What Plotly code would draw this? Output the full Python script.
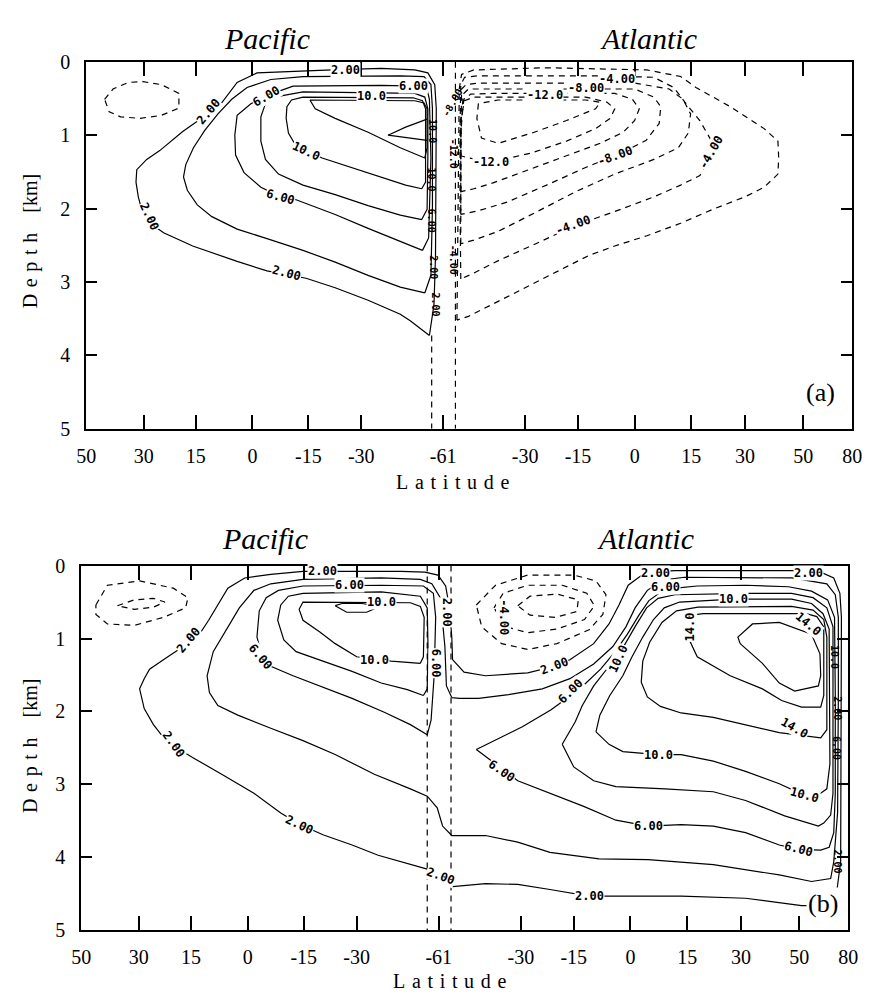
import plotly.graph_objects as go

W, H = 872, 1003

# ---------------- axes data ----------------
# section coordinate: 0 = 50N (Pacific) ... 46.6 = 61S ... 100 = 80N (Atlantic)
tick_pos = [0, 7.5, 14.3, 21.7, 29.0, 35.9, 46.6, 57.3, 64.2, 71.6, 79.0, 86.0, 93.6, 100]
tick_text = ["50", "30", "15", "0", "-15", "-30", "-61", "-30", "-15", "0", "15", "30", "50", "80"]
depth_ticks = [0, 1, 2, 3, 4, 5]
drake_x = [45.1, 48.2]

# ---------------- panel (a) streamlines (x = section coord, d = depth km) ----------------
a_p2_x = [44.8,45.4,45.6,45.7,45.7,45.5,44.6,42.9,38.5,32.1,27.0,22.3,19.7,18.1,16.8,14.5,12.6,9.6,7.9,6.6,6.5,6.8,7.3,8.5,10.1,13.9,19.7,23.6,28.7,32.5,36.8,41.0,42.3,44.8]
a_p2_d = [3.73,3.31,2.64,1.31,0.64,0.31,0.15,0.11,0.09,0.11,0.13,0.15,0.28,0.51,0.68,0.81,0.95,1.21,1.33,1.47,1.64,1.84,2.04,2.21,2.33,2.51,2.72,2.85,2.95,3.08,3.25,3.44,3.53,3.73]
a_p4_x = [44.2,45.0,45.2,45.2,45.0,44.1,41.0,32.1,28.3,24.1,21.0,19.0,17.2,15.5,14.0,13.0,12.7,13.2,14.5,16.4,19.7,23.6,28.3,32.5,36.8,41.0,44.2]
a_p4_d = [3.15,2.91,1.97,0.64,0.31,0.20,0.19,0.19,0.20,0.24,0.35,0.51,0.71,0.93,1.17,1.40,1.57,1.75,1.95,2.11,2.28,2.41,2.57,2.73,2.91,3.07,3.15]
a_p6_x = [43.9,44.7,45.0,44.8,44.5,43.3,38.5,32.1,27.0,24.1,21.5,19.7,19.4,19.5,20.6,22.8,25.4,27.4,32.5,36.8,41.0,43.9]
a_p6_d = [2.57,2.40,1.31,0.51,0.37,0.33,0.32,0.32,0.33,0.44,0.57,0.73,1.00,1.27,1.51,1.71,1.84,1.88,2.08,2.27,2.45,2.57]
a_p8_x = [43.8,44.5,44.6,44.6,44.2,42.9,28.3,25.1,23.4,22.8,22.8,23.4,25.1,28.3,32.5,36.8,41.0,43.8]
a_p8_d = [2.15,2.01,1.31,0.64,0.48,0.43,0.41,0.47,0.57,0.75,1.08,1.33,1.53,1.68,1.81,1.96,2.09,2.15]
a_p10_x = [43.8,44.3,44.3,43.9,42.7,28.3,26.8,26.2,26.1,26.4,27.3,28.7,30.8,34.6,38.5,41.7,43.8]
a_p10_d = [1.73,1.64,0.64,0.53,0.49,0.48,0.52,0.61,0.77,0.97,1.13,1.21,1.31,1.44,1.57,1.68,1.73]
a_p12_x = [29.2,29.9,32.5,36.8,41.0,44.2,44.5,44.5,44.1,42.9,29.2]
a_p12_d = [0.52,0.64,0.77,0.96,1.17,1.31,1.17,0.64,0.56,0.53,0.52]
a_p14_x = [44.5,41.7,39.4,41.7,44.5]
a_p14_d = [0.78,0.89,1.00,1.03,1.07]
a_pn2_x = [2.4,3.5,5.5,7.4,9.8,12.1,12.1,9.8,7.0,4.5,3.0,2.4]
a_pn2_d = [0.51,0.37,0.28,0.27,0.31,0.43,0.63,0.73,0.77,0.75,0.68,0.51]

a_a2_x = [48.4,48.5,48.6,48.7,49.0,50.6,60.1,73.2,77.6,79.6,83.9,88.5,90.3,90.4,90.3,88.5,86.0,81.8,77.6,73.2,69.0,65.6,60.5,56.3,52.1,49.9,48.4]
a_a2_d = [3.52,2.64,1.31,0.37,0.17,0.11,0.08,0.11,0.20,0.35,0.60,0.91,1.08,1.31,1.53,1.71,1.84,2.01,2.20,2.37,2.51,2.64,2.91,3.13,3.35,3.47,3.52]
a_a4_x = [48.9,48.8,48.8,48.9,49.4,51.2,66.5,74.1,76.7,78.3,80.1,81.8,81.7,80.1,77.6,74.1,69.0,63.6,58.9,53.8,50.6,48.9]
a_a4_d = [2.96,1.97,0.91,0.31,0.21,0.19,0.19,0.21,0.35,0.57,0.80,1.11,1.31,1.55,1.68,1.84,2.04,2.24,2.47,2.71,2.88,2.96]
a_a6_x = [48.9,48.9,49.0,49.6,51.2,71.6,76.1,77.9,78.9,78.6,77.3,74.1,69.0,63.9,58.9,53.8,50.6,48.9]
a_a6_d = [2.48,1.31,0.37,0.31,0.29,0.29,0.37,0.51,0.71,0.97,1.17,1.33,1.53,1.77,2.04,2.31,2.43,2.48]
a_a8_x = [48.9,48.9,49.2,49.9,52.5,71.6,74.1,75.0,74.8,73.1,69.9,65.2,60.1,55.0,51.2,48.9]
a_a8_d = [2.08,1.04,0.44,0.37,0.37,0.37,0.48,0.61,0.84,1.07,1.24,1.44,1.68,1.91,2.03,2.08]
a_a10_x = [48.9,48.9,49.3,50.2,53.1,69.0,71.3,72.2,71.6,70.1,67.1,62.7,57.6,53.1,50.6,48.9]
a_a10_d = [1.77,0.91,0.51,0.44,0.43,0.43,0.51,0.64,0.80,0.96,1.11,1.28,1.48,1.65,1.73,1.77]
a_a12_x = [48.9,48.9,49.4,50.6,65.2,68.0,69.0,68.4,66.5,62.7,58.2,54.4,52.1,49.9,48.9]
a_a12_d = [1.28,0.77,0.53,0.48,0.48,0.55,0.64,0.77,0.91,1.08,1.24,1.33,1.35,1.31,1.28]
a_a14_x = [51.2,51.0,51.6,53.8,58.2,62.7,66.5,67.1,65.2,53.8,51.2]
a_a14_d = [0.57,0.77,1.04,1.11,0.97,0.80,0.64,0.55,0.52,0.52,0.57]

# ---------------- panel (b) streamlines ----------------
b_2_x = [48.4,48.3,48.0,47.5,46.5,44.8,41.7,28.9,24.7,21.3,19.1,17.8,16.6,14.9,12.7,10.7,8.9,8.2,7.6,8.2,9.4,11.1,14.5,18.3,22.5,26.0,28.5,31.5,35.3,38.7,41.7,45.1,46.8,48.4,52.7,56.9,61.1,66.2,69.7,78.2,86.6,91.0,93.9,97.1,98.5,99.0,99.1,99.1,98.9,98.1,96.4,92.6,77.3,74.8,73.1,71.3,70.1,68.8,66.8,63.7,61.7,58.2,52.7,49.9,48.4]
b_2_d = [1.29,0.98,0.58,0.28,0.13,0.09,0.08,0.08,0.12,0.17,0.31,0.54,0.75,1.02,1.15,1.29,1.42,1.55,1.69,1.96,2.18,2.41,2.63,2.86,3.12,3.39,3.55,3.69,3.83,3.97,4.06,4.16,4.29,4.40,4.36,4.37,4.44,4.53,4.53,4.53,4.56,4.62,4.66,4.66,4.46,4.06,1.78,0.71,0.38,0.17,0.09,0.07,0.07,0.09,0.13,0.27,0.54,0.80,1.07,1.29,1.38,1.47,1.51,1.46,1.29]
b_4_x = [48.3,47.6,47.4,47.1,46.8,45.7,44.2,39.1,28.9,24.7,22.5,20.6,19.0,17.2,16.4,16.7,17.8,20.4,24.7,28.9,33.1,38.2,42.9,45.1,46.4,47.1,48.3,52.7,56.9,61.1,67.5,73.9,82.4,91.0,95.2,97.7,98.1,98.6,98.7,98.7,98.3,97.2,92.6,78.6,75.8,73.8,72.2,71.0,69.3,66.8,63.7,60.1,55.7,51.8,49.3,48.3]
b_4_d = [1.81,1.65,1.11,0.71,0.44,0.25,0.19,0.17,0.19,0.25,0.34,0.58,0.87,1.18,1.51,1.74,1.92,2.05,2.23,2.40,2.59,2.86,3.06,3.16,3.32,3.57,3.70,3.70,3.79,3.93,4.02,4.03,4.10,4.24,4.33,4.29,4.06,3.39,1.78,0.71,0.40,0.25,0.17,0.16,0.20,0.34,0.58,0.84,1.11,1.35,1.55,1.69,1.77,1.82,1.82,1.81]
b_p6_x = [45.1,45.6,46.0,46.2,45.9,44.6,39.1,28.9,25.7,24.1,23.2,22.9,23.6,24.7,27.6,31.1,35.3,39.5,42.9,45.1]
b_p6_d = [2.32,2.12,1.51,0.71,0.38,0.28,0.27,0.28,0.34,0.44,0.62,0.98,1.25,1.38,1.51,1.65,1.82,2.01,2.18,2.32]
b_p8_x = [44.6,45.1,45.2,45.1,44.2,39.1,28.9,27.0,26.0,25.6,26.4,28.0,31.5,35.3,39.1,42.5,44.6]
b_p8_d = [1.78,1.69,1.11,0.58,0.42,0.36,0.38,0.42,0.54,0.75,1.02,1.18,1.31,1.45,1.61,1.70,1.78]
b_p10_x = [44.2,44.6,44.7,44.2,42.9,28.9,28.4,28.9,31.1,33.1,35.9,40.4,44.2]
b_p10_d = [1.34,1.25,0.71,0.56,0.51,0.50,0.60,0.75,0.91,1.07,1.25,1.31,1.34]
b_p12_x = [33.1,34.6,37.2,38.9,36.6,34.0,33.1]
b_p12_d = [0.55,0.64,0.64,0.56,0.52,0.52,0.55]
b_pn2_x = [1.9,3.4,7.6,12.0,13.9,13.6,10.7,6.9,3.4,1.9,1.9]
b_pn2_d = [0.54,0.27,0.21,0.31,0.44,0.58,0.71,0.82,0.80,0.67,0.54]
b_pn4_x = [4.7,6.9,9.4,10.9,9.4,6.9,4.7]
b_pn4_d = [0.55,0.47,0.45,0.50,0.57,0.60,0.55]

b_a6_x = [51.5,57.5,61.2,63.8,65.7,67.7,69.6,71.2,72.7,74.0,75.6,77.5,80.3,86.6,92.2,95.2,97.3,98.2,98.3,98.3,98.1,97.5,96.4,93.5,91.0,86.6,82.4,78.2,73.9,69.7,65.5,61.1,56.9,53.5,51.5]
b_a6_d = [2.52,2.21,1.98,1.78,1.62,1.42,1.18,0.94,0.68,0.48,0.36,0.31,0.28,0.27,0.29,0.35,0.47,0.71,1.78,3.12,3.66,3.86,3.90,3.89,3.83,3.66,3.57,3.55,3.57,3.49,3.30,3.12,2.95,2.68,2.52]
b_a8_x = [62.7,64.4,65.3,66.8,68.8,70.7,72.3,73.7,75.2,77.4,86.6,92.6,95.4,97.2,98.0,98.0,97.7,96.8,96.1,91.7,86.6,82.4,76.1,69.7,66.8,64.2,62.7]
b_a8_d = [2.45,2.14,1.92,1.65,1.38,1.11,0.82,0.58,0.45,0.40,0.38,0.38,0.44,0.58,0.84,3.12,3.42,3.53,3.57,3.43,3.22,3.10,3.06,3.03,2.95,2.76,2.45]
b_a10_x = [67.1,67.6,68.9,70.6,71.8,73.2,74.6,76.0,78.0,85.0,92.6,95.2,96.7,97.5,97.6,97.2,96.4,94.3,91.0,86.6,82.4,78.2,75.2,70.6,68.8,67.1]
b_a10_d = [2.28,2.05,1.78,1.51,1.25,0.98,0.74,0.58,0.50,0.46,0.46,0.52,0.66,0.87,2.72,3.06,3.12,3.15,2.99,2.82,2.68,2.59,2.59,2.55,2.45,2.28]
b_a12_x = [73.0,73.2,74.1,75.7,77.6,80.4,92.6,95.4,96.8,97.2,97.2,96.4,91.0,86.6,82.4,78.2,75.5,73.8,73.0]
b_a12_d = [1.60,1.31,1.05,0.78,0.62,0.57,0.56,0.61,0.74,0.98,2.25,2.36,2.29,2.18,2.08,2.02,1.93,1.80,1.60]
b_a14_x = [79.5,79.1,80.3,82.4,84.6,88.8,91.3,93.9,96.4,96.8,96.8,95.9,94.5,81.1,79.5]
b_a14_d = [0.68,0.98,1.25,1.38,1.51,1.69,1.85,1.94,1.94,1.78,0.84,0.70,0.66,0.66,0.68]
b_a16_x = [85.9,85.6,87.5,91.0,95.2,96.3,96.4,96.1,93.0,91.0,88.8,85.9]
b_a16_d = [1.07,0.98,0.80,0.78,0.94,1.21,1.51,1.65,1.72,1.61,1.34,1.07]
b_an2_x = [51.5,54.0,58.2,64.2,67.1,68.4,68.0,66.2,62.0,58.2,54.8,52.2,51.5]
b_an2_d = [0.54,0.27,0.13,0.13,0.21,0.40,0.67,0.88,1.07,1.15,1.07,0.84,0.54]
b_an4_x = [53.8,55.0,58.2,62.7,65.9,66.9,65.6,62.0,58.2,55.4,53.8]
b_an4_d = [0.58,0.38,0.27,0.27,0.38,0.55,0.74,0.87,0.92,0.84,0.58]
b_an6_x = [56.9,58.5,62.0,64.8,64.6,61.8,58.5,56.9]
b_an6_d = [0.55,0.42,0.39,0.47,0.63,0.71,0.68,0.55]

# (level, x, depth) lists per panel
panel_a = [(2, a_p2_x, a_p2_d), (4, a_p4_x, a_p4_d), (6, a_p6_x, a_p6_d), (8, a_p8_x, a_p8_d),
           (10, a_p10_x, a_p10_d), (12, a_p12_x, a_p12_d), (14, a_p14_x, a_p14_d), (-2, a_pn2_x, a_pn2_d),
           (-2, a_a2_x, a_a2_d), (-4, a_a4_x, a_a4_d), (-6, a_a6_x, a_a6_d), (-8, a_a8_x, a_a8_d),
           (-10, a_a10_x, a_a10_d), (-12, a_a12_x, a_a12_d), (-14, a_a14_x, a_a14_d)]
panel_b = [(2, b_2_x, b_2_d), (4, b_4_x, b_4_d), (6, b_p6_x, b_p6_d), (8, b_p8_x, b_p8_d),
           (10, b_p10_x, b_p10_d), (12, b_p12_x, b_p12_d), (-2, b_pn2_x, b_pn2_d), (-4, b_pn4_x, b_pn4_d),
           (6, b_a6_x, b_a6_d), (8, b_a8_x, b_a8_d), (10, b_a10_x, b_a10_d), (12, b_a12_x, b_a12_d),
           (14, b_a14_x, b_a14_d), (16, b_a16_x, b_a16_d),
           (-2, b_an2_x, b_an2_d), (-4, b_an4_x, b_an4_d), (-6, b_an6_x, b_an6_d)]

# contour labels: text, x, depth, angle (labels on open ground get a white gap)
a_lab_text = ["2.00", "2.00", "2.00", "2.00", "6.00", "6.00", "6.00", "10.0", "10.0",
              "-4.00", "-8.00", "-12.0", "-12.0", "-8.00", "-4.00", "-4.00"]
a_lab_x = [33.8, 15.9, 8.3, 26.1, 42.7, 23.6, 25.4, 37.2, 28.7, 69.3, 65.2, 59.9, 52.9, 69.0, 63.6, 81.5]
a_lab_d = [0.11, 0.68, 2.11, 2.88, 0.33, 0.47, 1.84, 0.47, 1.21, 0.23, 0.36, 0.45, 1.36, 1.28, 2.22, 1.24]
a_lab_ang = [0, -50, 65, 15, 0, -30, 15, 0, 25, 0, 0, 0, 0, -20, -20, -60]
# crowded labels along the Drake Passage column (drawn over the lines)
a_col_text = ["10.0", "10.0", "6.00", "2.00", "-8.00", "-12.0", "-4.00", "2.00"]
a_col_x = [45.2, 45.1, 45.2, 45.4, 47.8, 48.0, 47.9, 45.6]
a_col_d = [0.95, 1.60, 2.17, 2.80, 0.55, 1.25, 2.70, 3.30]
a_col_ang = [90, 90, 90, 90, -60, 90, 90, 90]

b_lab_text = ["2.00", "2.00", "2.00", "2.00", "2.00", "2.00", "2.00", "6.00", "6.00", "6.00", "10.0", "10.0",
              "2.00", "2.00", "2.00", "6.00", "6.00", "6.00", "6.00", "6.00", "10.0", "10.0", "10.0", "10.0",
              "14.0", "14.0", "14.0", "-4.00"]
b_lab_x = [31.5, 14.0, 12.0, 28.5, 46.8, 66.2, 47.6, 34.9, 23.4, 46.2, 39.1, 38.2,
           74.8, 94.8, 61.7, 76.1, 63.8, 54.8, 73.9, 93.5, 85.0, 70.0, 75.2, 94.3,
           79.3, 94.8, 93.0, 55.0]
b_lab_d = [0.08, 1.02, 2.45, 3.55, 4.26, 4.53, 0.64, 0.27, 1.25, 1.34, 0.50, 1.30,
           0.10, 0.10, 1.38, 0.30, 1.72, 2.82, 3.57, 3.89, 0.46, 1.28, 2.59, 3.15,
           0.84, 0.80, 2.23, 0.71]
b_lab_ang = [0, -50, 55, 25, 20, 0, 90, 0, 50, 90, 0, 0,
             0, 0, -20, 0, -45, 35, 0, 15, 0, -65, 0, 15,
             -90, 40, 30, 90]
b_col_text = ["10.0", "2.00", "6.00", "2.00"]
b_col_x = [98.1, 98.6, 98.4, 98.6]
b_col_d = [1.25, 1.95, 2.50, 4.05]
b_col_ang = [90, 90, 90, 90]

# ---------------- figure ----------------
fig = go.Figure()
LW = 1.2
DASH = "6px,5px"


def add_set(lines, xa, ya):
    for lev, xs, ds in lines:
        fig.add_trace(go.Scatter(
            x=xs, y=ds, mode="lines", xaxis=xa, yaxis=ya,
            line=dict(color="black", width=LW, dash="solid" if lev > 0 else DASH),
            hoverinfo="skip", showlegend=False))


add_set(panel_a, "x", "y")
add_set(panel_b, "x2", "y2")

# Drake Passage boundary markers
fig.add_trace(go.Scatter(x=[drake_x[0], drake_x[0]], y=[a_p2_d[0], depth_ticks[-1]], mode="lines",
                         xaxis="x", yaxis="y", line=dict(color="black", width=LW, dash=DASH),
                         hoverinfo="skip", showlegend=False))
fig.add_trace(go.Scatter(x=[drake_x[1], drake_x[1]], y=[depth_ticks[0], depth_ticks[-1]], mode="lines",
                         xaxis="x", yaxis="y", line=dict(color="black", width=LW, dash=DASH),
                         hoverinfo="skip", showlegend=False))
for xv in drake_x:
    fig.add_trace(go.Scatter(x=[xv, xv], y=[depth_ticks[0], depth_ticks[-1]], mode="lines",
                             xaxis="x2", yaxis="y2", line=dict(color="black", width=LW, dash=DASH),
                             hoverinfo="skip", showlegend=False))

LABFONT = dict(family="DejaVu Sans Mono", size=12, color="black")
COLFONT = dict(family="DejaVu Sans Mono", size=10, color="black")
annotations = []


def add_labels(texts, xs, ds, angs, xr, yr, font, bg):
    for t, x, d, a in zip(texts, xs, ds, angs):
        ann = dict(x=x, y=d, xref=xr, yref=yr, text="<b>%s</b>" % t, textangle=a,
                   showarrow=False, font=font, borderpad=0)
        if bg:
            ann["bgcolor"] = "white"
        annotations.append(ann)


add_labels(a_lab_text, a_lab_x, a_lab_d, a_lab_ang, "x", "y", LABFONT, True)
add_labels(a_col_text, a_col_x, a_col_d, a_col_ang, "x", "y", COLFONT, False)
add_labels(b_lab_text, b_lab_x, b_lab_d, b_lab_ang, "x2", "y2", LABFONT, True)
add_labels(b_col_text, b_col_x, b_col_d, b_col_ang, "x2", "y2", COLFONT, False)

SERIF = "Liberation Serif"
SP = "&#8196;"  # three-per-em space for letter-spaced titles


def paper_text(text, px, py, size, angle=0, bg=None):
    d = dict(x=px / W, y=1 - py / H, xref="paper", yref="paper", text=text, showarrow=False,
             font=dict(family=SERIF, size=size, color="black"), textangle=angle,
             xanchor="center", yanchor="middle")
    if bg:
        d["bgcolor"] = bg
    annotations.append(d)


lat_title = SP.join("Latitude")
dep_title = SP.join("Depth") + SP * 3 + "[km]"

paper_text("<i>Pacific</i>", 263, 28, 30)
paper_text("<i>Atlantic</i>", 653, 28, 30)
paper_text("<i>Pacific</i>", 261, 539, 30)
paper_text("<i>Atlantic</i>", 650, 539, 30)
paper_text(lat_title, 453, 482, 20)
paper_text(lat_title, 450, 992, 20)
paper_text(dep_title, 21, 236, 20, -90)
paper_text(dep_title, 21, 752, 20, -90)
paper_text("(a)", 830, 390, 26)
paper_text("(b)", 832, 913, 26, bg="white")

xcommon = dict(range=[0, 100], tickmode="array", tickvals=tick_pos, ticktext=tick_text,
               ticks="inside", ticklen=14, tickwidth=1.5, tickcolor="black",
               showline=True, linecolor="black", linewidth=2, mirror="ticks",
               showgrid=False, zeroline=False, ticklabelstandoff=8,
               tickfont=dict(family=SERIF, size=20, color="black"))
ycommon = dict(range=[5, 0], tickmode="array", tickvals=depth_ticks,
               ticks="inside", ticklen=11, tickwidth=1.5, tickcolor="black",
               showline=True, linecolor="black", linewidth=2, mirror="ticks",
               showgrid=False, zeroline=False, ticklabelstandoff=10,
               tickfont=dict(family=SERIF, size=20, color="black"))

fig.update_layout(
    width=W, height=H, margin=dict(l=0, r=0, t=0, b=0),
    paper_bgcolor="white", plot_bgcolor="white",
    xaxis=dict(domain=[78 / W, 862 / W], anchor="y", **xcommon),
    yaxis=dict(domain=[1 - 427 / H, 1 - 52 / H], anchor="x", **ycommon),
    xaxis2=dict(domain=[73 / W, 858 / W], anchor="y2", **xcommon),
    yaxis2=dict(domain=[1 - 940 / H, 1 - 567 / H], anchor="x2", **ycommon),
    annotations=annotations,
    showlegend=False,
)

fig.write_html("out.html")
